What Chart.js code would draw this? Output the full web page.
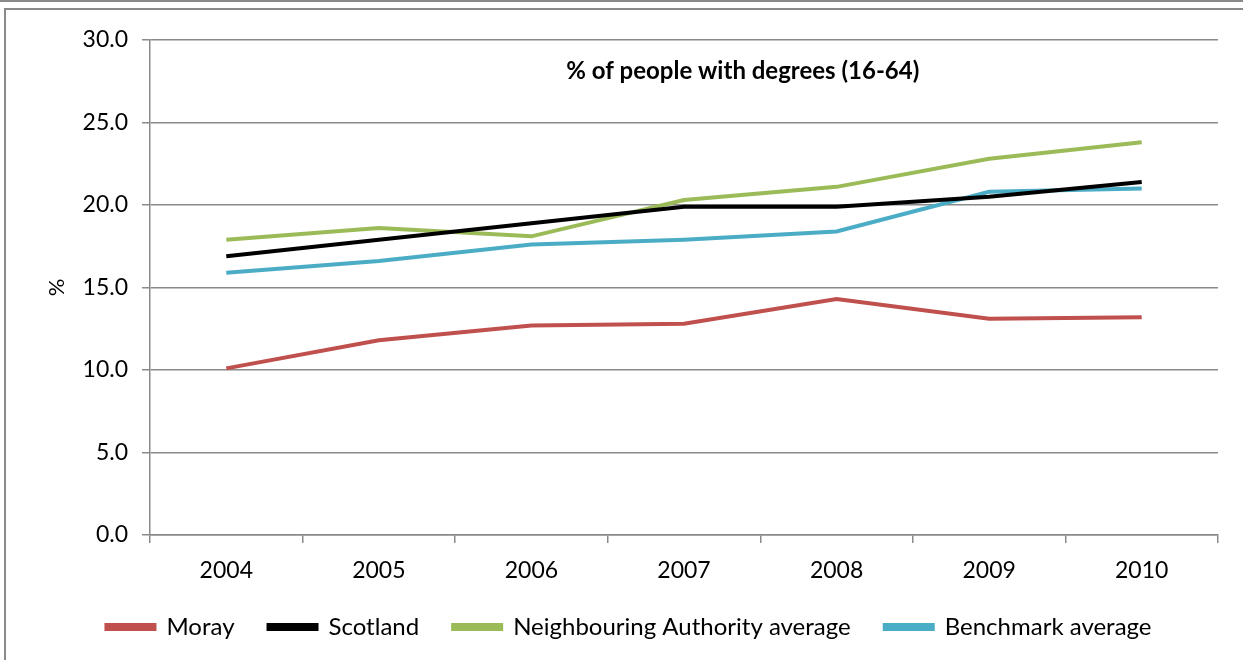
<!DOCTYPE html>
<html>
<head>
<meta charset="utf-8">
<script src="https://cdn.jsdelivr.net/npm/chart.js@4"></script>
<style>
    html, body { margin: 0; padding: 0; background: #fff; }
    #wrap { position: relative; width: 1243px; height: 660px; overflow: hidden; }
    #topline { position: absolute; left: 0; top: 0; width: 1243px; height: 2px; background: #8a8a8a; }
    #frame { position: absolute; left: 4px; top: 8px; width: 1300px; height: 700px; border: 2px solid #8a8a8a; pointer-events: none; }
    canvas { position: absolute; left: 0; top: 0; }
</style>
</head>
<body>
<div id="wrap">
    <canvas id="degreesChart" width="1243" height="660"></canvas>
    <div id="topline"></div>
    <div id="frame"></div>
</div>
<script>
const years = ['2004', '2005', '2006', '2007', '2008', '2009', '2010'];
const moray = [10.1, 11.8, 12.7, 12.8, 14.3, 13.1, 13.2];
const scotland = [16.9, 17.9, 18.9, 19.9, 19.9, 20.5, 21.4];
const neighbouring = [17.9, 18.6, 18.1, 20.3, 21.1, 22.8, 23.8];
const benchmark = [15.9, 16.6, 17.6, 17.9, 18.4, 20.8, 21.0];
const chartTitle = '% of people with degrees (16-64)';

const FONT = 'Lato, "Open Sans", sans-serif';

// title sits inside the plot area, like the original
const innerTitle = {
    id: 'innerTitle',
    afterDraw(chart) {
        const { ctx, chartArea } = chart;
        ctx.save();
        ctx.font = 'bold 24px ' + FONT;
        ctx.fillStyle = '#000';
        ctx.textAlign = 'center';
        ctx.textBaseline = 'middle';
        ctx.fillText(chartTitle, chartArea.left + (chartArea.right - chartArea.left) * 0.555, chartArea.top + 31);
        ctx.restore();
    }
};

function series(label, data, color) {
    return {
        label: label,
        data: data,
        borderColor: color,
        backgroundColor: color,
        borderWidth: 4,
        pointRadius: 0,
        tension: 0,
        fill: false
    };
}

new Chart(document.getElementById('degreesChart'), {
    type: 'line',
    data: {
        labels: years,
        datasets: [
            series('Moray', moray, '#C0504D'),
            series('Scotland', scotland, '#000000'),
            series('Neighbouring Authority average', neighbouring, '#9BBB59'),
            series('Benchmark average', benchmark, '#4BACC6')
        ]
    },
    options: {
        responsive: false,
        animation: false,
        layout: { padding: { left: 40, right: 25, top: 40, bottom: 11 } },
        scales: {
            x: {
                offset: true,
                grid: { offset: true, drawOnChartArea: false, tickLength: 8, color: '#8a8a8a', lineWidth: 1.5 },
                border: { color: '#8a8a8a', width: 1.5 },
                ticks: { color: '#000', font: { family: FONT, size: 23 }, padding: 14 },
                afterFit(scale) { scale.height = 46; }
            },
            y: {
                min: 0,
                max: 30,
                grid: { color: '#8a8a8a', lineWidth: 1.5, tickLength: 8 },
                border: { color: '#8a8a8a', width: 1.5 },
                ticks: {
                    stepSize: 5,
                    color: '#000',
                    font: { family: FONT, size: 23 },
                    padding: 14,
                    callback: v => v.toFixed(1)
                },
                title: { display: true, text: '%', color: '#000', font: { family: FONT, size: 22 } },
                afterFit(scale) { scale.width = 110; }
            }
        },
        plugins: {
            legend: {
                position: 'bottom',
                labels: {
                    color: '#000',
                    font: { family: FONT, size: 24 },
                    boxWidth: 48,
                    boxHeight: 4,
                    padding: 34
                }
            },
            tooltip: { enabled: false }
        }
    },
    plugins: [innerTitle]
});
</script>
</body>
</html>
